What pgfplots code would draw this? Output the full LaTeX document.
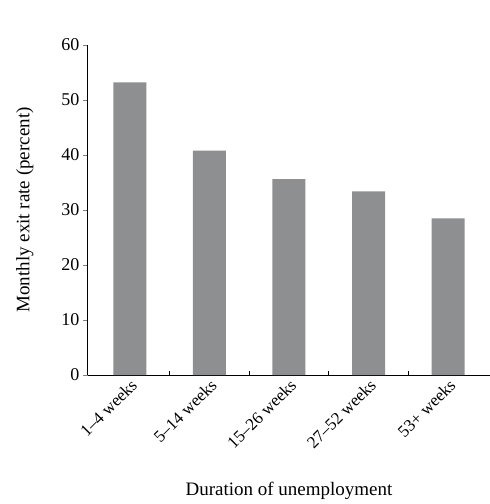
\documentclass[border=0pt]{standalone}
\usepackage{fontspec}
\setmainfont{Liberation Serif}
\usepackage{pgfplots}
\pgfplotsset{compat=1.18}
\definecolor{barg}{HTML}{8E8F91}
\begin{document}
\begin{tikzpicture}
\useasboundingbox (-88pt,-129pt) rectangle (402pt,375pt);
\begin{axis}[
  scale only axis, width=402pt, height=330pt,
  xmin=-0.525, xmax=4.525, ymin=0, ymax=60,
  axis x line*=bottom, axis y line*=left,
  axis line style={-, line width=1pt},
  ytick={0,10,...,60}, tick align=inside, major tick length=4.5pt,
  y tick style={line width=0.8pt, xshift=-4.5pt},
  xtick={0,...,4}, xticklabels={1--4 weeks,5--14 weeks,15--26 weeks,27--52 weeks,53+ weeks},
  extra x ticks={0.5,1.5,2.5,3.5}, extra x tick labels={},
  extra x tick style={x tick style={draw=black, line width=0.8pt}},
  x tick style={draw=none},
  x tick label style={rotate=45, anchor=north east, font=\fontsize{17}{17}\selectfont, inner sep=2pt},
  y tick label style={font=\fontsize{18}{18}\selectfont, xshift=-5pt},
  /pgf/number format/assume math mode=true,
  ylabel={Monthly exit rate (percent)}, ylabel style={font=\fontsize{19}{19}\selectfont, anchor=center, at={(axis description cs:-0.157,0.5)}},
  xlabel={Duration of unemployment}, xlabel style={font=\fontsize{19}{19}\selectfont, anchor=center, at={(axis description cs:0.5,-0.35)}},
]
\addplot[ybar, bar width=33pt, fill=barg, draw=none] coordinates {(0,53.2) (1,40.8) (2,35.6) (3,33.4) (4,28.5)};
\end{axis}
\end{tikzpicture}
\end{document}
